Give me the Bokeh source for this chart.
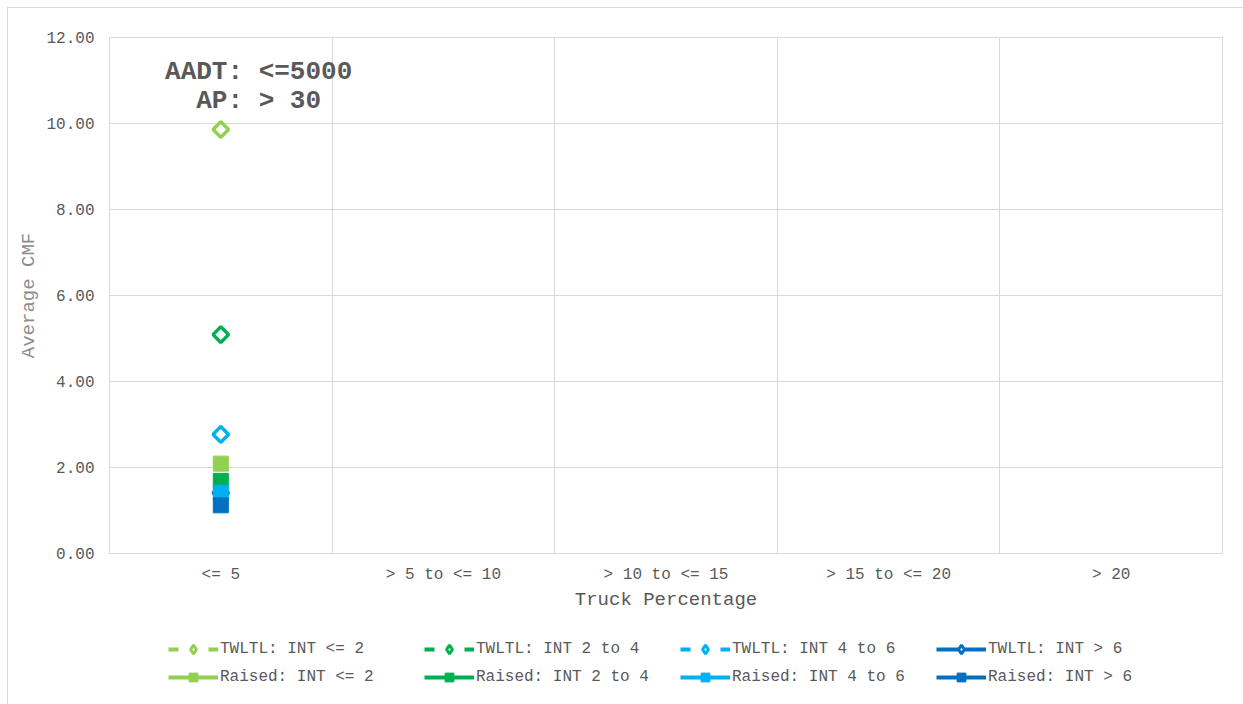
import numpy as np
from bokeh.plotting import figure
from bokeh.layouts import column
from bokeh.models import (FixedTicker, Legend, LegendItem, Label, NumeralTickFormatter,
                          Range1d, ColumnDataSource)
from bokeh.embed import file_html
from bokeh.resources import INLINE

categories = ["<= 5", "> 5 to <= 10", "> 10 to <= 15", "> 15 to <= 20", "> 20"]
nan = float("nan")
twltl_le2 = [9.86, nan, nan, nan, nan]
twltl_2to4 = [5.09, nan, nan, nan, nan]
twltl_4to6 = [2.77, nan, nan, nan, nan]
twltl_gt6 = [1.41, nan, nan, nan, nan]
raised_le2 = [2.09, nan, nan, nan, nan]
raised_2to4 = [1.69, nan, nan, nan, nan]
raised_4to6 = [1.41, nan, nan, nan, nan]
raised_gt6 = [1.12, nan, nan, nan, nan]
y_ticks = [0, 2, 4, 6, 8, 10, 12]

FONT = "Liberation Mono"
GRAY = "#595959"
GRID = "#d9d9d9"

xpos = [i + 0.5 for i in range(len(categories))]

p = figure(frame_width=1113, frame_height=516, min_border_left=101, min_border_top=29,
           min_border_right=21, min_border_bottom=70,
           x_range=Range1d(0, len(categories)), y_range=Range1d(0, 12),
           output_backend="svg", toolbar_location=None)
p.outline_line_color = GRID
p.background_fill_color = "white"

p.xaxis.ticker = FixedTicker(ticks=xpos)
p.xaxis.major_label_overrides = {x: c for x, c in zip(xpos, categories)}
p.xgrid.ticker = FixedTicker(ticks=list(range(len(categories) + 1)))
p.yaxis.ticker = FixedTicker(ticks=y_ticks)
p.yaxis.formatter = NumeralTickFormatter(format="0.00")
for ax in (p.xaxis, p.yaxis):
    ax.axis_line_color = None
    ax.major_tick_line_color = None
    ax.minor_tick_line_color = None
    ax.major_tick_in = 0
    ax.major_tick_out = 0
    ax.major_label_text_font = FONT
    ax.major_label_text_font_size = "16px"
    ax.major_label_text_color = GRAY
    ax.axis_label_text_font = FONT
    ax.axis_label_text_font_style = "normal"
    ax.axis_label_text_font_size = "19px"
p.xaxis.axis_label = "Truck Percentage"
p.yaxis.axis_label = "Average CMF"
p.xaxis.axis_label_text_color = GRAY
p.yaxis.axis_label_text_color = "#8c8c8c"
p.xaxis.major_label_standoff = 12
p.yaxis.major_label_standoff = 15
p.xaxis.axis_label_standoff = 2
p.yaxis.axis_label_standoff = 3
p.xgrid.grid_line_color = GRID
p.ygrid.grid_line_color = GRID

# legend-only figure below the chart
pl = figure(frame_width=1113, frame_height=81, min_border_left=101, min_border_top=0,
            min_border_right=21, min_border_bottom=0,
            x_range=Range1d(100, 101), y_range=Range1d(100, 101),
            x_axis_location=None, y_axis_location=None,
            output_backend="svg", toolbar_location=None)
pl.outline_line_color = None
pl.grid.grid_line_color = None

series = [
    ("TWLTL: INT <= 2", twltl_le2, "#92d050", "diamond", "dashed"),
    ("TWLTL: INT 2 to 4", twltl_2to4, "#00b050", "diamond", "dashed"),
    ("TWLTL: INT 4 to 6", twltl_4to6, "#00b0f0", "diamond", "dashed"),
    ("TWLTL: INT > 6", twltl_gt6, "#0070c0", "diamond", "solid"),
    ("Raised: INT <= 2", raised_le2, "#92d050", "square", "solid"),
    ("Raised: INT 2 to 4", raised_2to4, "#00b050", "square", "solid"),
    ("Raised: INT 4 to 6", raised_4to6, "#00b0f0", "square", "solid"),
    ("Raised: INT > 6", raised_gt6, "#0070c0", "square", "solid"),
]
items = []
for name, vals, color, marker, dash in series:
    src = ColumnDataSource(dict(x=xpos, y=vals))
    dash_style = "10 30" if dash == "dashed" else "solid"
    # main chart
    p.line("x", "y", source=src, line_color=color, line_width=4, line_dash=dash_style)
    if marker == "diamond":
        p.scatter("x", "y", source=src, marker="square", angle=np.pi / 4, size=11,
                  fill_color="white", line_color=color, line_width=3.5)
    else:
        p.scatter("x", "y", source=src, marker="square", size=15,
                  fill_color=color, line_color=color, line_width=1)
    # legend glyphs (out of view in the legend strip)
    ln = pl.line("x", "y", source=src, line_color=color, line_width=4, line_dash=dash_style)
    if marker == "diamond":
        sc = pl.scatter("x", "y", source=src, marker="diamond", size=14,
                        fill_color="white", line_color=color, line_width=3)
    else:
        sc = pl.scatter("x", "y", source=src, marker="square", size=9,
                        fill_color=color, line_color=color, line_width=1)
    items.append(LegendItem(label=name, renderers=[ln, sc]))

legend = Legend(items=items, orientation="horizontal", ncols=4,
                label_text_font=FONT, label_text_font_size="16px", label_text_color=GRAY,
                glyph_width=50, glyph_height=22, label_standoff=2, spacing=6,
                label_height=22, label_width=198,
                border_line_color=None, background_fill_alpha=0,
                margin=0, padding=0, location=(59, 16))
pl.add_layout(legend)

t1 = Label(x=0.67, y=11.2, text="AADT: <=5000", text_font=FONT, text_font_style="bold",
           text_font_size="26px", text_color=GRAY, text_align="center", text_baseline="middle")
t2 = Label(x=0.67, y=10.53, text="AP: > 30", text_font=FONT, text_font_style="bold",
           text_font_size="26px", text_color=GRAY, text_align="center", text_baseline="middle")
p.add_layout(t1)
p.add_layout(t2)

layout = column(p, pl, spacing=0)
layout.styles = {"margin-left": "7px", "margin-top": "7px",
                 "border-left": "1px solid #d9d9d9", "border-top": "1px solid #d9d9d9"}

open("out.html", "w").write(file_html(layout, INLINE))
